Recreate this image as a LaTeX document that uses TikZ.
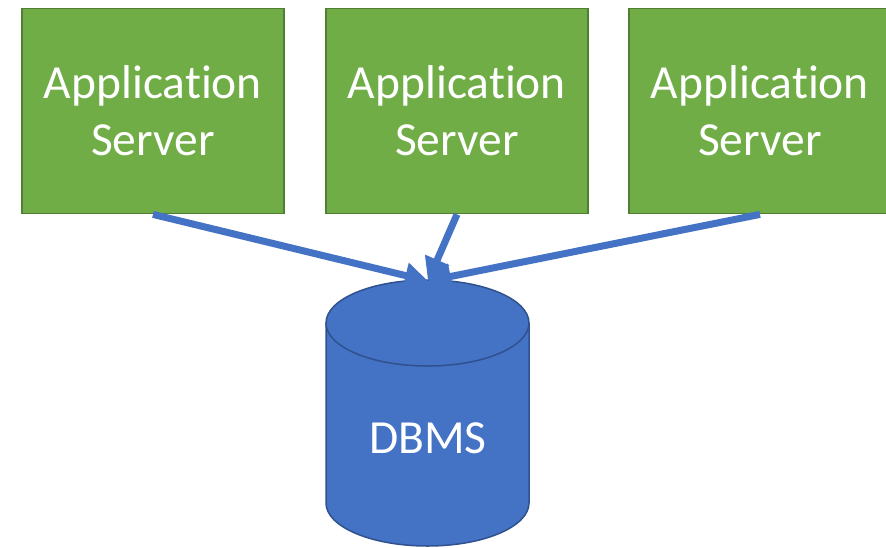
\documentclass[tikz,border=0pt]{standalone}
\usepackage{fontspec}
\setmainfont{Carlito}[Ligatures=CommonOff]
\usetikzlibrary{arrows.meta}
\definecolor{appfill}{HTML}{70AD47}
\definecolor{appdraw}{HTML}{507E32}
\definecolor{dbfill}{HTML}{4472C4}
\definecolor{dbdraw}{HTML}{2F528F}
\tikzset{
  appbox/.style={draw=appdraw, fill=appfill, line width=1.8pt, minimum width=262pt, minimum height=205pt,
    inner sep=0pt, text=white, align=center, font=\fontsize{47.5}{57}\selectfont},
  dblabel/.style={text=white, font=\fontsize{47.5}{57}\selectfont, inner sep=0pt},
  link/.style={draw=dbfill, line width=7pt, -{Triangle[length=23pt,width=25pt]}}
}
\begin{document}
\begin{tikzpicture}[x=1pt,y=-1pt]
\useasboundingbox (0,0) rectangle (886,547);
\clip (0,0) rectangle (886,547);
% cylinder
\fill[dbfill] (326,323) rectangle (529,503);
\fill[dbfill] (427.5,503) ellipse [x radius=101.5, y radius=43];
\draw[dbdraw, line width=1.5pt] (326,323) -- (326,503) arc[start angle=180, delta angle=-180, x radius=101.5, y radius=43] -- (529,323);
\draw[dbdraw, line width=1.5pt, fill=dbfill] (427.5,323) ellipse [x radius=101.5, y radius=43];
\coordinate (dbtop) at (428,281);
\node[dblabel] (dbms) at (428,438) {DBMS};
% servers
\node[appbox] (app1) at (153,111) {Application\\Server};
\node[appbox] (app2) at (457,111) {Application\\Server};
\node[appbox] (app3) at (760,111) {Application\\Server};
% links
\draw[link] (app1.south) -- (dbtop);
\draw[link] (app3.south) -- (dbtop);
\draw[link] (app2.south) -- (dbtop);
\end{tikzpicture}
\end{document}
